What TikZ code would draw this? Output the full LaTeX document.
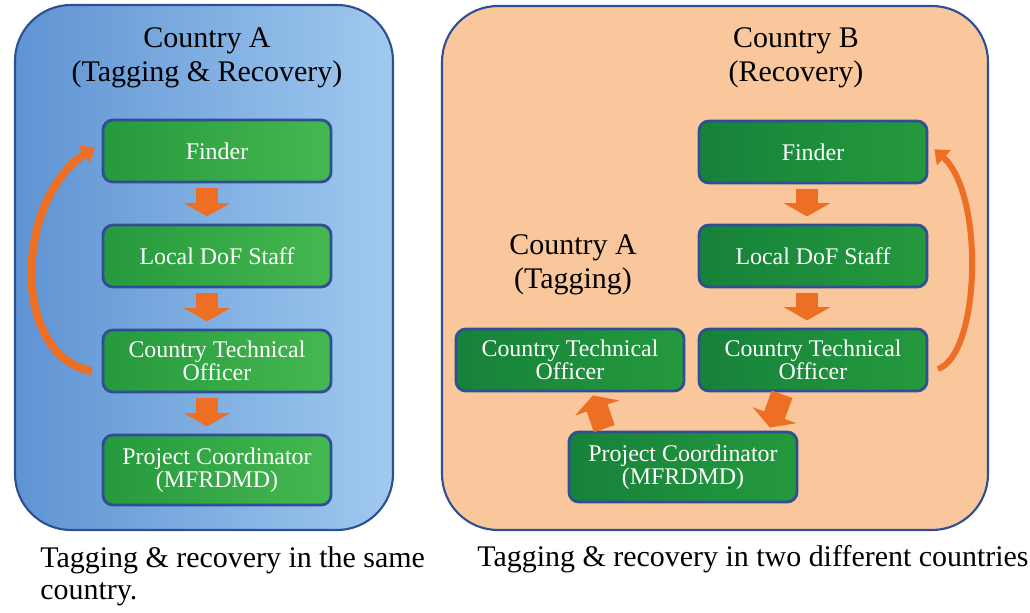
\documentclass[tikz,border=0pt]{standalone}
\usepackage{fontspec}
\setmainfont{Liberation Serif}
\usetikzlibrary{arrows.meta}
\definecolor{panelblue}{HTML}{5F93D3}
\definecolor{panelbluelight}{HTML}{A0C9EF}
\definecolor{panelpeach}{HTML}{FAC79C}
\definecolor{panelline}{HTML}{2E4F94}
\definecolor{boxgreen}{HTML}{25993D}
\definecolor{boxgreenlight}{HTML}{46B850}
\definecolor{boxgreendark}{HTML}{16823A}
\definecolor{floworange}{HTML}{EC6F24}
\tikzset{
  panel/.style={draw=panelline, line width=1.5pt, rounded corners=1.4cm},
  green box/.style={draw=panelline, line width=2pt, rounded corners=0.25cm,
    minimum width=5.7cm, minimum height=1.55cm, inner sep=1pt, align=center,
    text=white, font=\fontsize{17pt}{16.3pt}\selectfont},
  green box a/.style={green box, left color=boxgreen, right color=boxgreenlight},
  green box b/.style={green box, left color=boxgreendark, right color=boxgreen},
  title text/.style={align=center, font=\fontsize{21.3pt}{24.1pt}\selectfont},
  caption text/.style={align=left, inner sep=0pt, font=\fontsize{21.3pt}{23.4pt}\selectfont},
  flow arrow/.style={draw=floworange, line width=0.55cm,
    -{Triangle[width=1.15cm, length=0.33cm]}, shorten <=0.12cm, shorten >=0.18cm},
  loop arrow/.style={draw=floworange, line width=0.2cm,
    -{Triangle[width=0.5cm, length=0.32cm]}, shorten <=0.25cm, shorten >=0.2cm},
}

\begin{document}
\begin{tikzpicture}[x=0.025cm,y=-0.025cm]
  \useasboundingbox (0,0) rectangle (1030,612);
  % the two panels
  \draw[panel, left color=panelblue, right color=panelbluelight] (15,5) rectangle (393,530);
  \draw[panel, fill=panelpeach] (442,6) rectangle (988,530);
  % same country
  \node[title text] (titleA) at (207,58) {Country A\\(Tagging \& Recovery)};
  \node[green box a] (finderA) at (217,151) {Finder};
  \node[green box a] (dofA) at (217,256) {Local DoF Staff};
  \node[green box a] (ctoA) at (217,361) {Country Technical\\Officer};
  \node[green box a, minimum height=1.75cm] (pcA) at (217,470) {Project Coordinator\\(MFRDMD)};
  \draw[flow arrow, transform canvas={xshift=-0.25cm}] (finderA) -- (dofA);
  \draw[flow arrow, transform canvas={xshift=-0.25cm}] (dofA) -- (ctoA);
  \draw[flow arrow, transform canvas={xshift=-0.25cm}] (ctoA) -- (pcA);
  \draw[loop arrow] (ctoA.186) .. controls (10,355) and (15,200) .. (finderA.176);
  % two countries
  \node[title text] (titleB) at (796,58) {Country B\\(Recovery)};
  \node[title text] (titleAt) at (573,265) {Country A\\(Tagging)};
  \node[green box b] (finderB) at (813,152) {Finder};
  \node[green box b] (dofB) at (813,256) {Local DoF Staff};
  \node[green box b] (ctoB) at (813,360) {Country Technical\\Officer};
  \node[green box b] (ctoAt) at (570,360) {Country Technical\\Officer};
  \node[green box b, minimum height=1.75cm] (pcB) at (683,467) {Project Coordinator\\(MFRDMD)};
  \draw[flow arrow, transform canvas={xshift=-0.15cm}] (finderB) -- (dofB);
  \draw[flow arrow, transform canvas={xshift=-0.15cm}] (dofB) -- (ctoB);
  \draw[flow arrow, shorten <=0.05cm, shorten >=0.08cm] (ctoB.-133) -- (pcB.23);
  \draw[flow arrow, shorten <=0.05cm, shorten >=0.08cm] (pcB.155) -- (ctoAt.-56);
  \draw[loop arrow, line width=0.15cm] (ctoB.-6) .. controls (980,355) and (985,195) .. (finderB.4);
  % captions
  \node[caption text, anchor=north west] (capA) at (40,546) {Tagging \& recovery in the same\\country.};
  \node[caption text, anchor=north west] (capB) at (477,545) {Tagging \& recovery in two different countries};
\end{tikzpicture}
\end{document}
